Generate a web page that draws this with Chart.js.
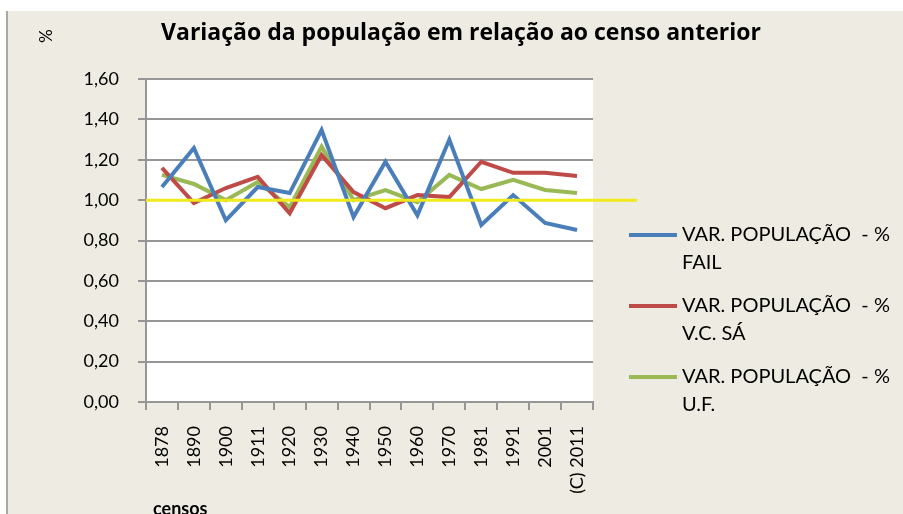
<!DOCTYPE html>
<html>
<head>
<meta charset="utf-8">
<script src="https://cdn.jsdelivr.net/npm/chart.js@4.4.1/dist/chart.umd.min.js"></script>
<style>
  html, body { margin: 0; padding: 0; background: #ffffff; }
  canvas { display: block; }
</style>
</head>
<body>
<canvas id="myChart" width="903" height="514"></canvas>
<script>
// Census years (x axis)
const censos = ["1878", "1890", "1900", "1911", "1920", "1930", "1940", "1950", "1960", "1970", "1981", "1991", "2001", "(C) 2011"];

// Population variation vs previous census
const varFail = [1.065, 1.258, 0.90, 1.065, 1.035, 1.347, 0.916, 1.19, 0.925, 1.30, 0.877, 1.025, 0.887, 0.852];
const varVCSa = [1.16, 0.985, 1.06, 1.115, 0.935, 1.223, 1.04, 0.96, 1.025, 1.015, 1.19, 1.135, 1.135, 1.12];
const varUF = [1.125, 1.08, 1.0, 1.09, 0.965, 1.265, 1.0, 1.05, 0.99, 1.125, 1.055, 1.10, 1.05, 1.035];

// Legend texts (two lines each, as wrapped in the original)
const seriesNames = [
    ["VAR. POPULAÇÃO  - %", "FAIL"],
    ["VAR. POPULAÇÃO  - %", "V.C. SÁ"],
    ["VAR. POPULAÇÃO  - %", "U.F."],
];
const seriesColors = ["#4a7ebb", "#be4b48", "#98b954"];

// Reference level (no change)
const referenceLevel = 1.0;

const titleText = "Variação da população em relação ao censo anterior";
const yTitle = "%";
const xTitle = "censos";

const FONT = "Lato";
const FONT2 = "Open Sans";
const GRID = "#969696";

const decorPlugin = {
    id: "decor",
    beforeDraw(chart) {
        const c = chart.ctx;
        const a = chart.chartArea;
        c.save();
        c.fillStyle = "#ffffff";
        c.fillRect(0, 0, chart.width, chart.height);
        c.fillStyle = "#eeece2";
        c.fillRect(8, 11, chart.width - 8, chart.height - 11);
        c.strokeStyle = "#a8a8a8";
        c.lineWidth = 2;
        c.beginPath();
        c.moveTo(7, 11);
        c.lineTo(7, chart.height);
        c.stroke();
        c.fillStyle = "#ffffff";
        c.fillRect(a.left, a.top, a.right - a.left, a.bottom - a.top);
        c.restore();
    },
    afterDatasetsDraw(chart) {
        const c = chart.ctx;
        const a = chart.chartArea;
        const y = chart.scales.y.getPixelForValue(referenceLevel);
        c.save();
        c.strokeStyle = "#eeea1c";
        c.lineWidth = 3;
        c.beginPath();
        c.moveTo(a.left, y);
        c.lineTo(a.right + 44, y);
        c.stroke();
        c.restore();
    },
    afterDraw(chart) {
        const c = chart.ctx;
        c.save();
        c.fillStyle = "#000000";
        // title
        c.font = "bold 23px " + FONT2;
        c.textAlign = "center";
        c.textBaseline = "middle";
        c.fillText(titleText, 461, 33);
        // y title, rotated
        c.save();
        c.translate(44, 36);
        c.rotate(Math.PI / 2);
        c.font = "17px " + FONT;
        c.fillText(yTitle, 0, 0);
        c.restore();
        // x title
        c.font = "bold 18px " + FONT;
        c.textAlign = "left";
        c.fillText(xTitle, 153, 509);
        // legend
        c.font = "20px " + FONT;
        c.textAlign = "left";
        seriesNames.forEach((lines, i) => {
            const y0 = 235 + i * 71;
            c.strokeStyle = seriesColors[i];
            c.lineWidth = 4;
            c.beginPath();
            c.moveTo(629, y0);
            c.lineTo(677, y0);
            c.stroke();
            lines.forEach((t, j) => c.fillText(t, 682, y0 + j * 28));
        });
        c.restore();
    },
};

const ctx = document.getElementById("myChart");
new Chart(ctx, {
    type: "line",
    data: {
        labels: censos,
        datasets: [varFail, varVCSa, varUF].map((d, i) => ({
            label: seriesNames[i].join(" "),
            data: d,
            borderColor: seriesColors[i],
            backgroundColor: seriesColors[i],
            borderWidth: 4,
            pointRadius: 0,
            tension: 0,
        })),
    },
    options: {
        responsive: false,
        animation: false,
        layout: { padding: { top: 79, right: 310, left: 0, bottom: 0 } },
        plugins: {
            legend: { display: false },
            title: { display: false },
            tooltip: { enabled: false },
        },
        scales: {
            x: {
                offset: true,
                grid: { offset: true, drawOnChartArea: false, drawTicks: true, tickLength: 8, color: GRID, lineWidth: 2 },
                border: { color: GRID, width: 2 },
                ticks: {
                    autoSkip: false,
                    minRotation: 90,
                    maxRotation: 90,
                    padding: 16,
                    color: "#000000",
                    font: { family: FONT, size: 18 },
                },
                afterFit(scale) { scale.height = 112; },
            },
            y: {
                min: 0,
                max: 1.6,
                ticks: {
                    stepSize: 0.2,
                    padding: 19,
                    color: "#000000",
                    font: { family: FONT, size: 18 },
                    callback: (v) => v.toFixed(2).replace(".", ","),
                },
                grid: { color: GRID, lineWidth: 2, tickLength: 8 },
                border: { color: GRID, width: 2 },
                afterFit(scale) { scale.width = 146; },
            },
        },
    },
    plugins: [decorPlugin],
});
</script>
</body>
</html>
